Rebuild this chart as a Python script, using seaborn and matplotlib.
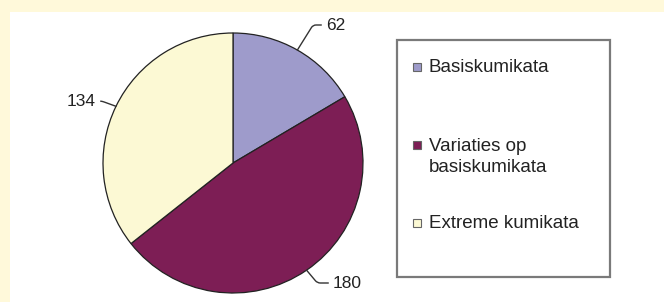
import numpy as np
import seaborn as sns
import matplotlib.pyplot as plt
from matplotlib.patches import Rectangle

# data
categories = ["Basiskumikata", "Variaties op\nbasiskumikata", "Extreme kumikata"]
counts = [62, 180, 134]
colors = ["#9e9bcb", "#7d1e55", "#fcf9d4"]

sns.set_theme(style="white")
plt.rcParams['font.family'] = ['Liberation Sans', 'DejaVu Sans']

W, H = 664, 302
fig = plt.figure(figsize=(W / 100, H / 100), dpi=100)
fig.patch.set_facecolor("#fff9da")
ax = fig.add_axes([0, 0, 1, 1])
ax.set_xlim(0, W)
ax.set_ylim(0, H)
ax.set_aspect("equal")
ax.axis("off")

def py(y):
    # pixel row -> data y
    return H - y

# white panel
ax.add_patch(Rectangle((10, 0), W - 10, H - 12, facecolor="white", edgecolor="none", zorder=0))

cx, cy, r = 233, py(163), 130
wedges, _ = ax.pie(counts, colors=colors, startangle=90, counterclock=False,
                   center=(cx, cy), radius=r, frame=True,
                   wedgeprops=dict(edgecolor="#222222", linewidth=0.9))
ax.set_xlim(0, W)
ax.set_ylim(0, H)
ax.axis("off")

# value labels with leader lines
label_pos = [((326, 25), "left", 58), ((333, 283), "left", -50), ((96, 101), "right", 160)]
for w, n, (txy, ha, angB) in zip(wedges, counts, label_pos):
    mid = np.deg2rad((w.theta1 + w.theta2) / 2)
    ex, ey = cx + r * np.cos(mid), cy + r * np.sin(mid)
    ax.annotate(str(n), xy=(ex, ey), xytext=(txy[0], py(txy[1])), ha=ha, va="center",
                fontsize=12.5, color="#222222",
                arrowprops=dict(arrowstyle="-", color="#333333", lw=1.0, shrinkA=1, shrinkB=0,
                                connectionstyle=f"angle,angleA=0,angleB={angB},rad=3"))

# legend box
ax.add_patch(Rectangle((397, py(277)), 213, 237, facecolor="white", edgecolor="#7a7a7a", linewidth=1.6, zorder=3))
entry_y = [67, 157, 223]
for lab, col, yy in zip(categories, colors, entry_y):
    first_line_y = yy - 12 if "\n" in lab else yy
    ax.add_patch(Rectangle((413, py(first_line_y) - 4), 8, 8, facecolor=col, edgecolor="#666666",
                           linewidth=0.8, zorder=4))
    ax.text(429, py(yy), lab, ha="left", va="center", fontsize=13.5, color="#222222",
            linespacing=1.25, zorder=4)

fig.savefig("out.png", dpi=100, facecolor=fig.get_facecolor())
